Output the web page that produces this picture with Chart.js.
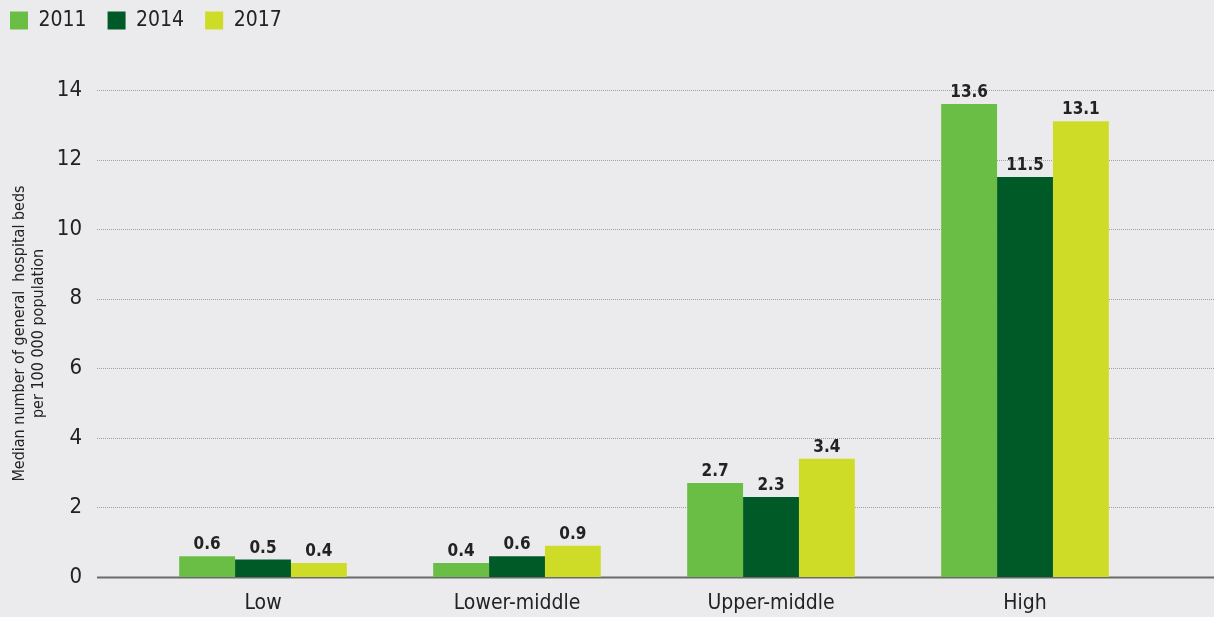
<!DOCTYPE html>
<html>
<head>
<meta charset="utf-8">
<script src="https://cdn.jsdelivr.net/npm/chart.js@4"></script>
<style>
  html, body { margin: 0; padding: 0; background: #ebebed; }
  #wrap { position: relative; width: 1214px; height: 617px; }
</style>
</head>
<body>
<div id="wrap"><canvas id="grafico"></canvas></div>
<script>
const categorias = ["Low", "Lower-middle", "Upper-middle", "High"];
const anios = ["2011", "2014", "2017"];
const valores2011 = [0.6, 0.4, 2.7, 13.6];
const valores2014 = [0.5, 0.6, 2.3, 11.5];
const valores2017 = [0.4, 0.9, 3.4, 13.1];
const ticksY = [0, 2, 4, 6, 8, 10, 12, 14];
const colores = ["#6bbe45", "#005a27", "#cfdc27"];

const fuente = "'DejaVu Sans Condensed', 'DejaVu Sans', sans-serif";
const PAD_LEYENDA = 21;

// altura fija de la leyenda y su posicion arriba a la izquierda
const legendPlugin = {
  id: "legendFix",
  beforeInit(chart) {
    const fitOriginal = chart.legend.fit;
    chart.legend.fit = function () {
      fitOriginal.bind(chart.legend)();
      this.height = 90;
    };
  },
  beforeDraw(chart) {
    chart.legend.left = 10 - PAD_LEYENDA;
    chart.legend.top = 12 - PAD_LEYENDA - 2;
  },
};

// lineas de la cuadricula hasta los bordes del lienzo
const gridPlugin = {
  id: "gridExt",
  beforeDatasetsDraw(chart) {
    const ctx = chart.ctx;
    const y = chart.scales.y;
    ctx.save();
    ticksY.forEach((v) => {
      const py = Math.round(y.getPixelForValue(v)) + 0.5;
      ctx.beginPath();
      if (v === 0) {
        ctx.setLineDash([]);
        ctx.strokeStyle = "#6b6b6b";
        ctx.lineWidth = 2;
      } else {
        ctx.setLineDash([1, 1]);
        ctx.strokeStyle = "#a0a0a0";
        ctx.lineWidth = 1;
      }
      ctx.moveTo(97, py);
      ctx.lineTo(chart.width, py);
      ctx.stroke();
    });
    ctx.restore();
  },
};

// etiquetas de valor encima de cada barra
const labelPlugin = {
  id: "valueLabels",
  afterDatasetsDraw(chart) {
    const ctx = chart.ctx;
    ctx.save();
    ctx.font = "bold 17px " + fuente;
    ctx.fillStyle = "#222";
    ctx.textAlign = "center";
    ctx.textBaseline = "alphabetic";
    chart.data.datasets.forEach((ds, i) => {
      chart.getDatasetMeta(i).data.forEach((bar, j) => {
        ctx.fillText(ds.data[j].toFixed(1), bar.x, bar.y - 7);
      });
    });
    ctx.restore();
  },
};

const ctx = document.getElementById("grafico").getContext("2d");
new Chart(ctx, {
  type: "bar",
  data: {
    labels: categorias,
    datasets: [
      { label: anios[0], data: valores2011, backgroundColor: colores[0] },
      { label: anios[1], data: valores2014, backgroundColor: colores[1] },
      { label: anios[2], data: valores2017, backgroundColor: colores[2] },
    ],
  },
  options: {
    responsive: true,
    maintainAspectRatio: false,
    animation: false,
    layout: { padding: { left: 10, right: 62, top: 0, bottom: 0 } },
    datasets: { bar: { categoryPercentage: 0.66, barPercentage: 1.0 } },
    plugins: {
      legend: {
        position: "top",
        align: "start",
        labels: {
          boxWidth: 18,
          boxHeight: 18,
          padding: PAD_LEYENDA,
          color: "#222",
          font: { family: fuente, size: 21 },
        },
      },
      tooltip: { enabled: false },
    },
    scales: {
      x: {
        grid: { display: false },
        border: { display: false },
        ticks: { color: "#222", font: { family: fuente, size: 21 }, padding: 6 },
        afterFit: (axis) => { axis.height = 40; },
      },
      y: {
        min: 0,
        max: 14,
        afterBuildTicks: (axis) => { axis.ticks = ticksY.map((v) => ({ value: v })); },
        afterFit: (axis) => { axis.width = 126; },
        grid: { display: false, tickLength: 54 },
        border: { display: false },
        ticks: { color: "#222", font: { family: fuente, size: 22 }, padding: 0 },
        title: {
          display: true,
          text: ["Median number of general  hospital beds", "per 100 000 population"],
          color: "#222",
          font: { family: fuente, size: 16 },
          padding: 0,
        },
      },
    },
  },
  plugins: [legendPlugin, gridPlugin, labelPlugin],
});
</script>
</body>
</html>
